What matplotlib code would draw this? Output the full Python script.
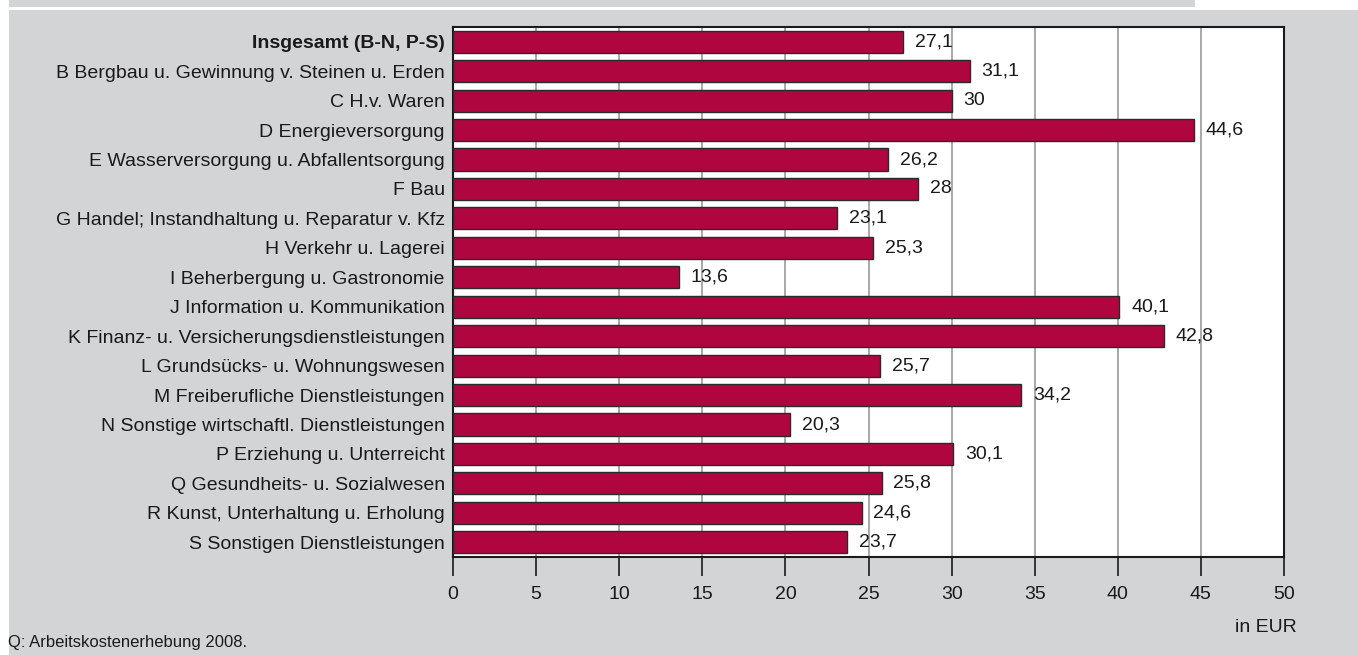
import matplotlib
matplotlib.use("Agg")
import matplotlib.pyplot as plt
from matplotlib.patches import Rectangle

plt.rcParams['font.family'] = ['Liberation Sans', 'DejaVu Sans']

categories = [
    "Insgesamt (B-N, P-S)",
    "B Bergbau u. Gewinnung v. Steinen u. Erden",
    "C H.v. Waren",
    "D Energieversorgung",
    "E Wasserversorgung u. Abfallentsorgung",
    "F Bau",
    "G Handel; Instandhaltung u. Reparatur v. Kfz",
    "H Verkehr u. Lagerei",
    "I Beherbergung u. Gastronomie",
    "J Information u. Kommunikation",
    "K Finanz- u. Versicherungsdienstleistungen",
    "L Grundsücks- u. Wohnungswesen",
    "M Freiberufliche Dienstleistungen",
    "N Sonstige wirtschaftl. Dienstleistungen",
    "P Erziehung u. Unterreicht",
    "Q Gesundheits- u. Sozialwesen",
    "R Kunst, Unterhaltung u. Erholung",
    "S Sonstigen Dienstleistungen",
]
values = [27.1, 31.1, 30.0, 44.6, 26.2, 28.0, 23.1, 25.3, 13.6, 40.1,
          42.8, 25.7, 34.2, 20.3, 30.1, 25.8, 24.6, 23.7]
value_labels = ["27,1", "31,1", "30", "44,6", "26,2", "28", "23,1", "25,3", "13,6",
                "40,1", "42,8", "25,7", "34,2", "20,3", "30,1", "25,8", "24,6", "23,7"]
xticks = [0, 5, 10, 15, 20, 25, 30, 35, 40, 45, 50]
x_unit = "in EUR"
source = "Q: Arbeitskostenerhebung 2008."

bg = "#d3d4d6"
bar_color = "#b0063f"
txt = "#1a1a1a"
FS = 14

W, H = 1358, 655
fig = plt.figure(figsize=(13.58, 6.55), dpi=100, facecolor="white")
# main gray panel
fig.patches.append(Rectangle((9/W, 0), 1, 1 - 10/H, transform=fig.transFigure,
                             facecolor=bg, edgecolor="none", zorder=-10))
# top gray strip
fig.patches.append(Rectangle((9/W, 1 - 7/H), (1195 - 9)/W, 7/H, transform=fig.transFigure,
                             facecolor=bg, edgecolor="none", zorder=-10))

ax = fig.add_axes([453/W, 1 - 557/H, (1284 - 453)/W, (557 - 27)/H])
ax.set_zorder(5)
ax.set_facecolor("white")

n = len(categories)
ypos = list(range(n))
ax.barh(ypos, values, height=0.75, color=bar_color, edgecolor="#2a2a2a",
        linewidth=1.0, zorder=3)
for y, v, lab in zip(ypos, values, value_labels):
    ax.text(v + 0.7, y, lab, va="center", ha="left", fontsize=FS, color=txt, zorder=4)

ax.set_ylim(n - 0.5, -0.5)
ax.set_xlim(0, 50)
ax.set_xticks(xticks)
ax.set_xticklabels([str(t) for t in xticks], fontsize=FS, color=txt)
ax.set_yticks(ypos)
ax.set_yticklabels(categories, fontsize=FS, color=txt)
ax.get_yticklabels()[0].set_fontweight("bold")
ax.tick_params(axis="y", length=0, pad=6)
ax.tick_params(axis="x", length=14, width=1.2, color=txt, pad=7)
ax.grid(axis="x", color="#9a9a9a", linewidth=1.2, zorder=1)
for s in ax.spines.values():
    s.set_color(txt)
    s.set_linewidth(1.5)

fig.text(1297/W, 1 - 627/H, x_unit, ha="right", va="center", fontsize=FS, color=txt)
fig.text(8/W, 1 - 642/H, source, ha="left", va="center", fontsize=12, color=txt)

fig.savefig("out.png", dpi=100, facecolor="white")
